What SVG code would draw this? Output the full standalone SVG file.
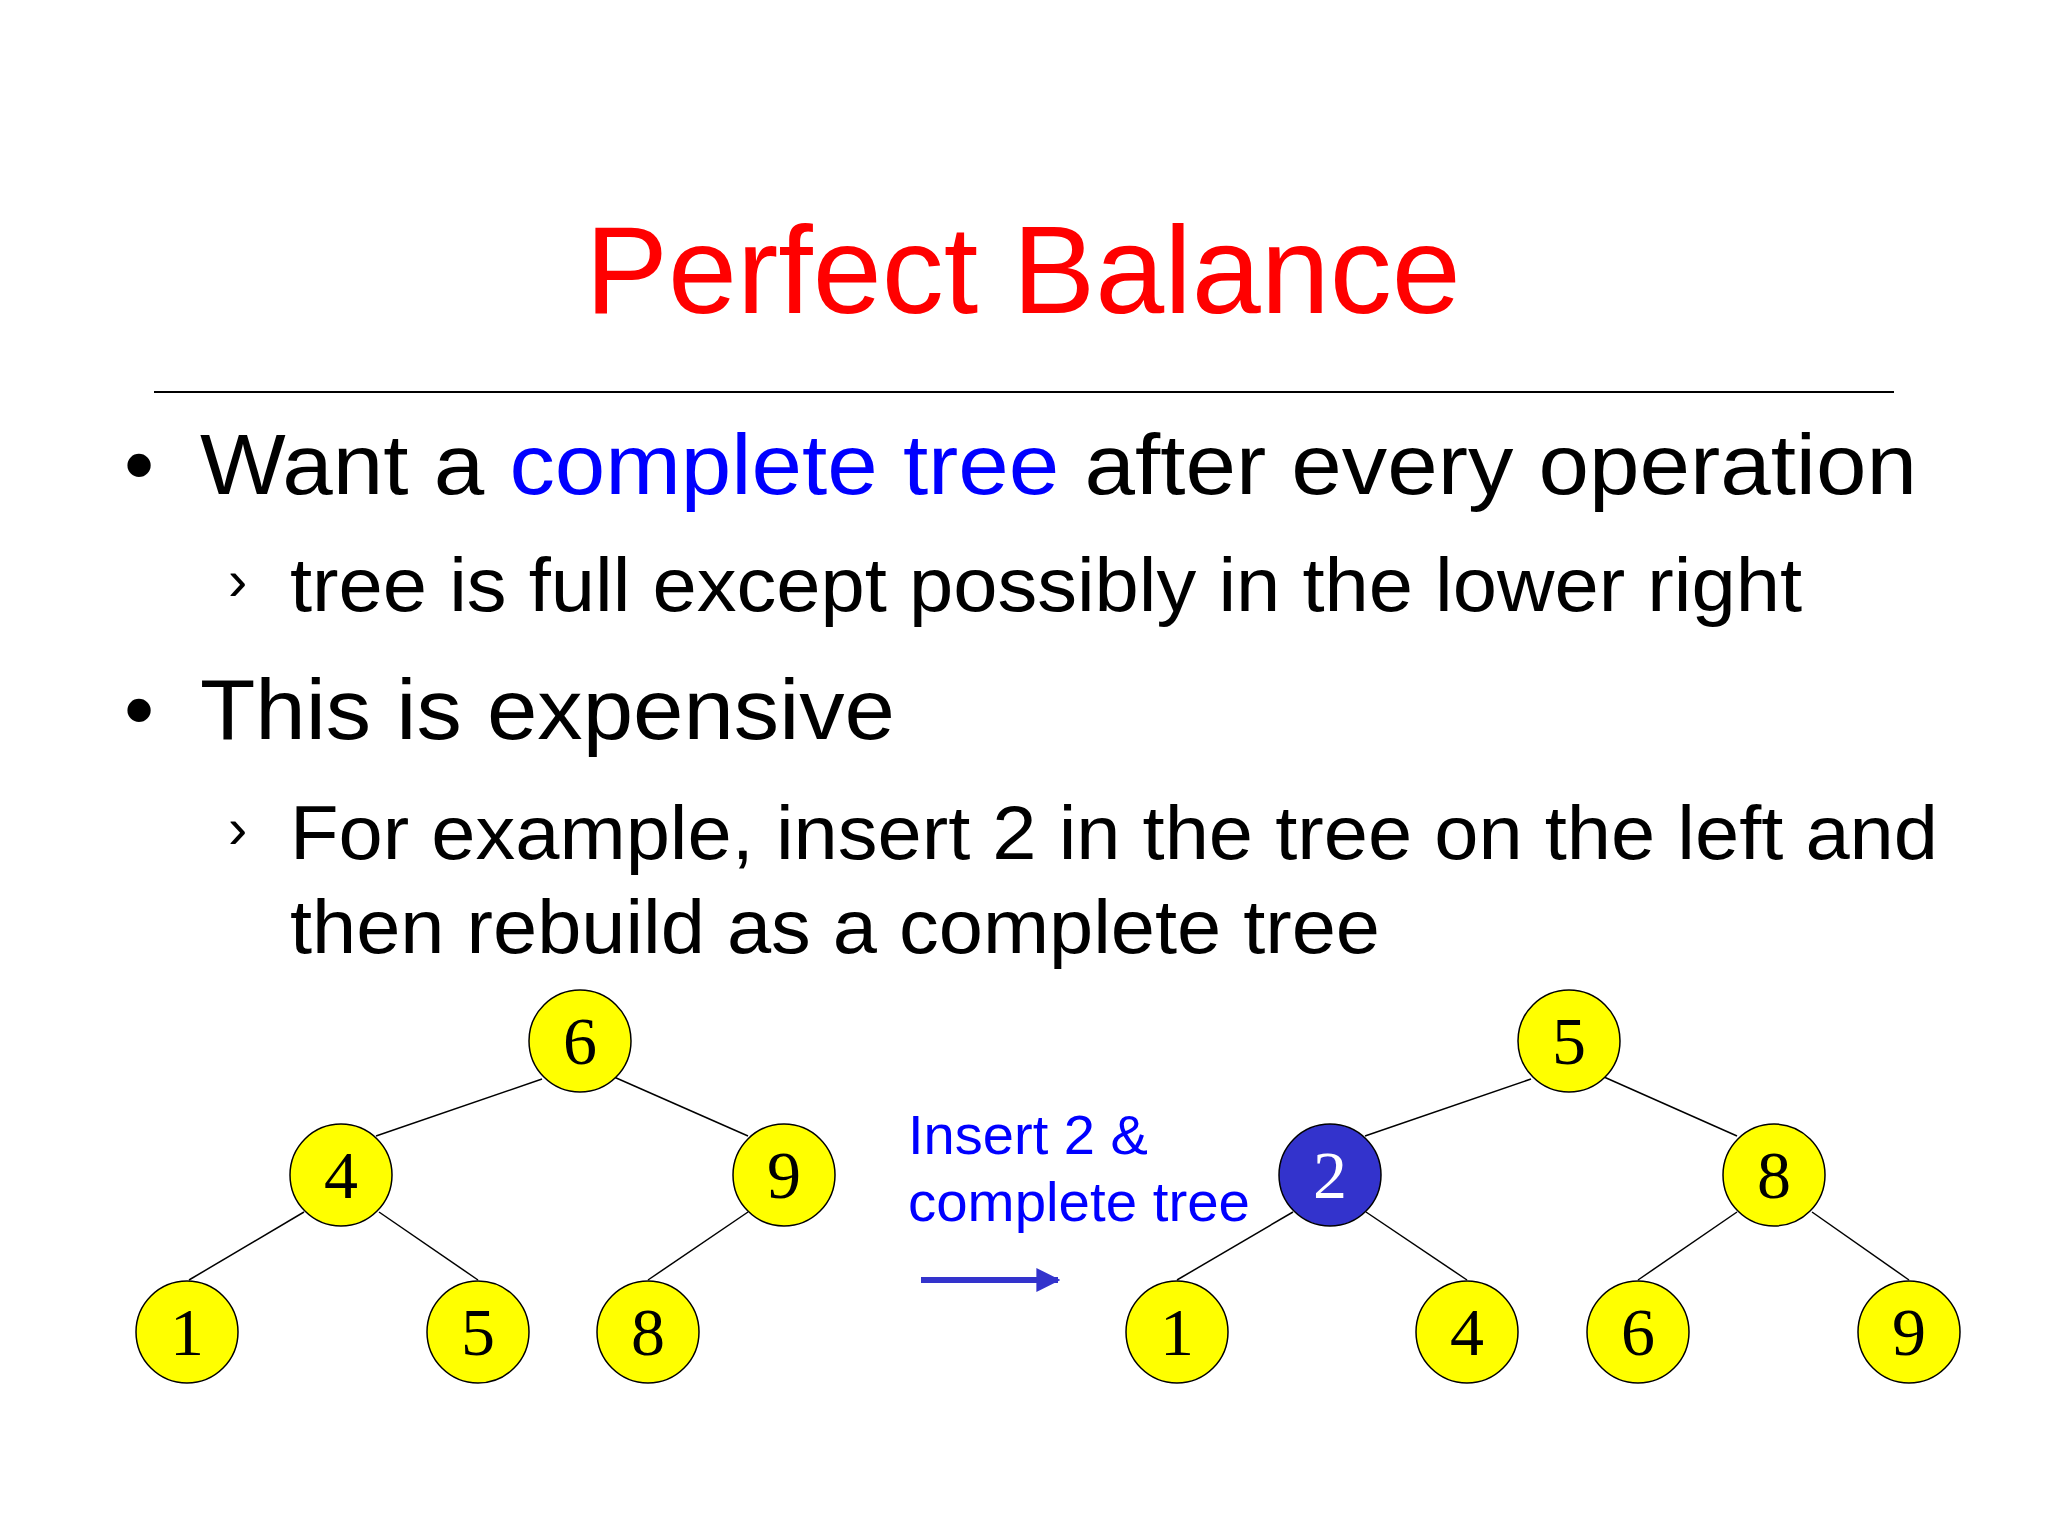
<svg xmlns="http://www.w3.org/2000/svg" width="2048" height="1536" viewBox="0 0 2048 1536">
<style>
.t{font-family:"Liberation Sans",Arial,sans-serif;fill:#000}
.n circle{fill:#ffff00;stroke:#000;stroke-width:1.5}
.n text{font-family:"Liberation Serif","Times New Roman",serif;font-size:68px;text-anchor:middle;fill:#000}
.e line{stroke:#000;stroke-width:1.5}
</style>
<defs><marker id="ah" viewBox="0 0 10 10" refX="9" refY="5" markerWidth="4" markerHeight="4" orient="auto"><path d="M0,0L10,5L0,10z" fill="#3333cc"/></marker></defs>
<rect width="2048" height="1536" fill="#fff"/>
<text class="t" x="1023" y="313" font-size="124" text-anchor="middle" style="fill:#ff0000">Perfect Balance</text>
<line x1="154" y1="392" x2="1894" y2="392" stroke="#000" stroke-width="2"/>
<text class="t" x="124" y="494" font-size="86">•</text>
<text class="t" x="200" y="494" font-size="86" textLength="1717" lengthAdjust="spacingAndGlyphs">Want a <tspan fill="#0000ff">complete tree</tspan> after every operation</text>
<text class="t" x="228" y="600" font-size="58">›</text>
<text class="t" x="290" y="611" font-size="76" textLength="1512" lengthAdjust="spacingAndGlyphs">tree is full except possibly in the lower right</text>
<text class="t" x="124" y="739" font-size="86">•</text>
<text class="t" x="200" y="739" font-size="86" textLength="695" lengthAdjust="spacingAndGlyphs">This is expensive</text>
<text class="t" x="228" y="848" font-size="58">›</text>
<text class="t" x="290" y="859" font-size="76" textLength="1648" lengthAdjust="spacingAndGlyphs">For example, insert 2 in the tree on the left and</text>
<text class="t" x="290" y="953" font-size="76" textLength="1090" lengthAdjust="spacingAndGlyphs">then rebuild as a complete tree</text>
<g id="edges" class="e">
<line x1="542" y1="1079" x2="376" y2="1136"/><line x1="614" y1="1077" x2="748" y2="1136"/>
<line x1="304" y1="1212" x2="189" y2="1280"/><line x1="379" y1="1212" x2="478" y2="1280"/>
<line x1="748" y1="1212" x2="648" y2="1280"/>
<line x1="1531" y1="1079" x2="1365" y2="1136"/><line x1="1604" y1="1077" x2="1737" y2="1136"/>
<line x1="1293" y1="1212" x2="1177" y2="1280"/><line x1="1366" y1="1212" x2="1467" y2="1280"/>
<line x1="1737" y1="1212" x2="1638" y2="1280"/><line x1="1812" y1="1212" x2="1909" y2="1280"/>
<line x1="921" y1="1280" x2="1058" y2="1280" marker-end="url(#ah)" style="stroke:#3333cc;stroke-width:6"/>
</g>
<g id="L6" class="n"><circle cx="580" cy="1041" r="51"/><text x="580" y="1064">6</text></g>
<g id="L4" class="n"><circle cx="341" cy="1175" r="51"/><text x="341" y="1198">4</text></g>
<g id="L9" class="n"><circle cx="784" cy="1175" r="51"/><text x="784" y="1198">9</text></g>
<g id="L1" class="n"><circle cx="187" cy="1332" r="51"/><text x="187" y="1355">1</text></g>
<g id="L5" class="n"><circle cx="478" cy="1332" r="51"/><text x="478" y="1355">5</text></g>
<g id="L8" class="n"><circle cx="648" cy="1332" r="51"/><text x="648" y="1355">8</text></g>
<g id="R5" class="n"><circle cx="1569" cy="1041" r="51"/><text x="1569" y="1064">5</text></g>
<g id="R2" class="n"><circle cx="1330" cy="1175" r="51" style="fill:#3333cc"/><text x="1330" y="1198" style="fill:#fff">2</text></g>
<g id="R8" class="n"><circle cx="1774" cy="1175" r="51"/><text x="1774" y="1198">8</text></g>
<g id="R1" class="n"><circle cx="1177" cy="1332" r="51"/><text x="1177" y="1355">1</text></g>
<g id="R4" class="n"><circle cx="1467" cy="1332" r="51"/><text x="1467" y="1355">4</text></g>
<g id="R6" class="n"><circle cx="1638" cy="1332" r="51"/><text x="1638" y="1355">6</text></g>
<g id="R9" class="n"><circle cx="1909" cy="1332" r="51"/><text x="1909" y="1355">9</text></g>
<text class="t" x="908" y="1154" font-size="55" textLength="240" lengthAdjust="spacingAndGlyphs" style="fill:#0000ff">Insert 2 &amp;</text>
<text class="t" x="908" y="1221" font-size="55" textLength="342" lengthAdjust="spacingAndGlyphs" style="fill:#0000ff">complete tree</text>
</svg>
